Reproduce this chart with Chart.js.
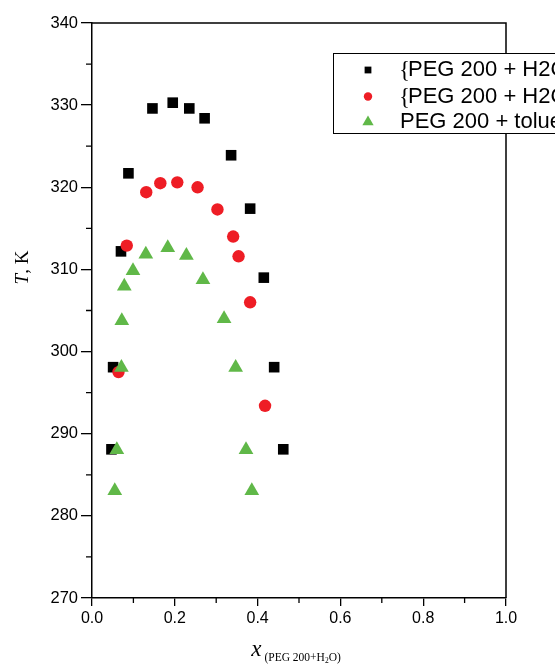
<!DOCTYPE html>
<html>
<head>
<meta charset="utf-8">
<script src="https://cdn.jsdelivr.net/npm/chart.js@4.4.1/dist/chart.umd.min.js"></script>
<style>
    html, body { margin: 0; padding: 0; background: #fff; overflow: hidden; }
    #wrap { position: relative; width: 620px; height: 670px; }
</style>
</head>
<body>
<div id="wrap"><canvas id="lleChart"></canvas></div>
<script>
// Series 1: {PEG 200 + H2O} + toluene (black squares)
const squareX = [0.047, 0.051, 0.070, 0.088, 0.146, 0.195, 0.235, 0.272, 0.336, 0.382, 0.415, 0.440, 0.462];
const squareT = [288.1, 298.1, 312.2, 321.7, 329.6, 330.3, 329.6, 328.4, 323.9, 317.4, 309.0, 298.1, 288.1];

// Series 2: {PEG 200 + H2O} + toluene (red circles)
const circleX = [0.064, 0.084, 0.131, 0.165, 0.206, 0.255, 0.303, 0.341, 0.354, 0.382, 0.418];
const circleT = [297.5, 312.9, 319.4, 320.5, 320.6, 320.0, 317.3, 314.0, 311.6, 306.0, 293.4];

// Series 3: PEG 200 + toluene (green triangles)
const triangleX = [0.055, 0.060, 0.071, 0.072, 0.078, 0.099, 0.130, 0.183, 0.228, 0.268, 0.319, 0.347, 0.372, 0.386];
const triangleT = [283.05, 288.05, 298.05, 303.75, 307.95, 309.85, 311.85, 312.65, 311.7, 308.75, 304.0, 298.05, 288.05, 283.05];

const legendLabels = ['{PEG 200 + H2O} + toluene', '{PEG 200 + H2O} + toluene', 'PEG 200 + toluene'];

// axis ticks
const xMajorTicks = [0.0, 0.2, 0.4, 0.6, 0.8, 1.0];
const xMinorTicks = [0.1, 0.3, 0.5, 0.7, 0.9];
const yMajorTicks = [270, 280, 290, 300, 310, 320, 330, 340];
const yMinorTicks = [275, 285, 295, 305, 315, 325, 335];

const SANS = '"Liberation Sans", Arial, sans-serif';
const SERIF = '"Liberation Serif", "Times New Roman", serif';

const toPoints = (xs, ys) => xs.map((x, i) => ({ x: x, y: ys[i] }));

// frame, minor ticks, axis titles and legend box
const extrasPlugin = {
    id: 'extras',
    afterDraw(chart) {
        const ctx = chart.ctx;
        const area = chart.chartArea;
        const xs = chart.scales.x;
        const ys = chart.scales.y;

        ctx.save();
        ctx.strokeStyle = '#000';

        // top and right spines
        ctx.lineWidth = 1.5;
        ctx.beginPath();
        ctx.moveTo(area.left, area.top);
        ctx.lineTo(area.right, area.top);
        ctx.lineTo(area.right, area.bottom);
        ctx.stroke();

        // minor ticks
        ctx.lineWidth = 1.3;
        ctx.beginPath();
        xMinorTicks.forEach(v => {
            const px = xs.getPixelForValue(v);
            ctx.moveTo(px, area.bottom);
            ctx.lineTo(px, area.bottom + 5);
        });
        yMinorTicks.forEach(v => {
            const py = ys.getPixelForValue(v);
            ctx.moveTo(area.left, py);
            ctx.lineTo(area.left - 6, py);
        });
        ctx.stroke();

        // y title: "T, K"
        ctx.fillStyle = '#000';
        ctx.textBaseline = 'alphabetic';
        ctx.translate(28, (area.top + area.bottom) / 2 - 43);
        ctx.rotate(-Math.PI / 2);
        ctx.font = 'italic 19px ' + SERIF;
        const wT = ctx.measureText('T').width;
        ctx.font = '19px ' + SERIF;
        const wRest = ctx.measureText(', K').width;
        let sx = -(wT + wRest) / 2;
        ctx.font = 'italic 19px ' + SERIF;
        ctx.fillText('T', sx, 0);
        ctx.font = '19px ' + SERIF;
        ctx.fillText(', K', sx + wT, 0);
        ctx.setTransform(1, 0, 0, 1, 0, 0);

        // x title: x with subscript (PEG 200+H2O)
        const parts = [
            { t: 'x', f: 'italic 23px ' + SERIF, dy: 0, gap: 3 },
            { t: '(PEG 200+H', f: '11.5px ' + SERIF, dy: 5, gap: 0 },
            { t: '2', f: '7.5px ' + SERIF, dy: 7, gap: 0 },
            { t: 'O)', f: '11.5px ' + SERIF, dy: 5, gap: 0 }
        ];
        let total = 0;
        parts.forEach(p => { ctx.font = p.f; p.w = ctx.measureText(p.t).width; total += p.w + p.gap; });
        let cx = xs.getPixelForValue(0.5) - 3 - total / 2;
        const baseY = 656;
        parts.forEach(p => {
            ctx.font = p.f;
            ctx.fillText(p.t, cx, baseY + p.dy);
            cx += p.w + p.gap;
        });

        // legend box
        const lx = 333.5, ly = 53.5;
        ctx.fillStyle = '#fff';
        ctx.fillRect(lx, ly, 400, 80);
        ctx.lineWidth = 1;
        ctx.strokeStyle = '#000';
        ctx.strokeRect(lx, ly, 400, 80);

        const rows = [70, 96.5, 122];
        const legendStyles = [
            { pointStyle: 'rect', radius: 4.8, color: '#000' },
            { pointStyle: 'circle', radius: 4.2, color: '#ee1d25' },
            { pointStyle: 'triangle', radius: 6.5, color: '#60b848' }
        ];
        rows.forEach((ry, i) => {
            const st = legendStyles[i];
            ctx.fillStyle = st.color;
            ctx.strokeStyle = st.color;
            Chart.helpers.drawPoint(ctx, { pointStyle: st.pointStyle, radius: st.radius, borderWidth: 0, rotation: 0 }, 368, ry);
            ctx.fillStyle = '#000';
            ctx.textBaseline = 'middle';
            let tx = 399;
            let label = legendLabels[i];
            if (label.charAt(0) === '{') {
                ctx.font = '23px ' + SERIF;
                ctx.fillText('{', tx, ry + 1);
                tx += 9;
                label = label.slice(1);
            } else {
                tx += 1;
            }
            ctx.font = '22px ' + SANS;
            ctx.fillText(label, tx, ry);
        });

        ctx.restore();
    }
};

const chart = new Chart(document.getElementById('lleChart'), {
    type: 'scatter',
    data: {
        datasets: [{
            label: legendLabels[0],
            data: toPoints(squareX, squareT),
            pointStyle: 'rect',
            pointRadius: 7.5,
            backgroundColor: '#000',
            borderColor: '#000',
            borderWidth: 0,
            pointBorderWidth: 0,
            order: 2
        }, {
            label: legendLabels[1],
            data: toPoints(circleX, circleT),
            pointStyle: 'circle',
            pointRadius: 6.2,
            backgroundColor: '#ee1d25',
            borderColor: '#ee1d25',
            borderWidth: 0,
            pointBorderWidth: 0,
            order: 1
        }, {
            label: legendLabels[2],
            data: toPoints(triangleX, triangleT),
            pointStyle: 'triangle',
            pointRadius: 8.5,
            backgroundColor: '#60b848',
            borderColor: '#60b848',
            borderWidth: 0,
            pointBorderWidth: 0,
            order: 0
        }]
    },
    options: {
        responsive: true,
        maintainAspectRatio: false,
        animation: false,
        layout: {
            padding: { top: 23, right: 114, left: 0, bottom: 0 }
        },
        plugins: {
            legend: { display: false },
            tooltip: { enabled: false }
        },
        scales: {
            x: {
                type: 'linear',
                min: 0,
                max: 1,
                afterFit: s => { s.height = 72; },
                afterBuildTicks: s => { s.ticks = xMajorTicks.map(v => ({ value: v })); },
                ticks: {
                    color: '#000',
                    padding: 3,
                    maxRotation: 0,
                    font: { family: SANS, size: 16 },
                    callback: v => Number(v).toFixed(1)
                },
                grid: { drawOnChartArea: false, tickLength: 8, color: '#000', lineWidth: 1.3 },
                border: { color: '#000', width: 1.5 }
            },
            y: {
                type: 'linear',
                min: 270,
                max: 340,
                afterFit: s => { s.width = 92; },
                afterBuildTicks: s => { s.ticks = yMajorTicks.map(v => ({ value: v })); },
                ticks: {
                    color: '#000',
                    padding: 3,
                    font: { family: SANS, size: 16.5 },
                    callback: v => String(v)
                },
                grid: { drawOnChartArea: false, tickLength: 11, color: '#000', lineWidth: 1.3 },
                border: { color: '#000', width: 1.5 }
            }
        }
    },
    plugins: [extrasPlugin]
});
</script>
</body>
</html>
